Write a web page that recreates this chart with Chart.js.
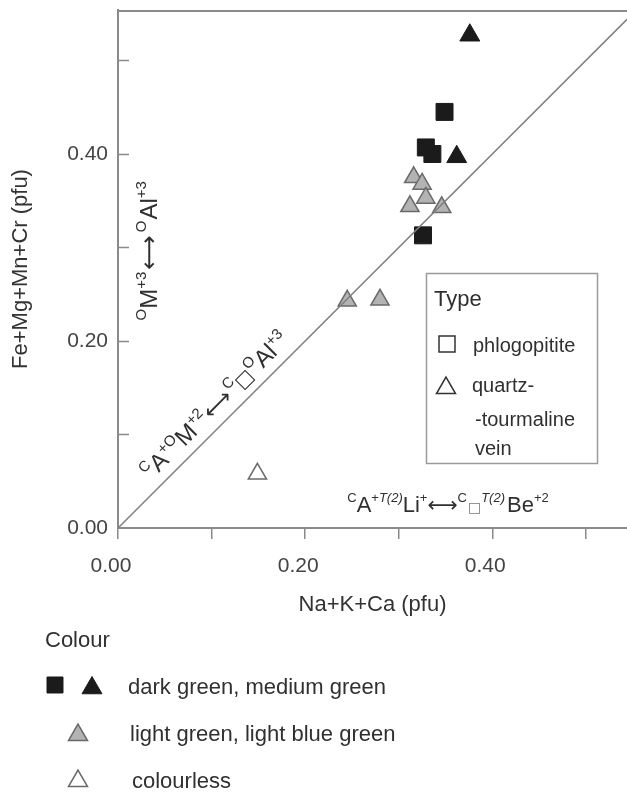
<!DOCTYPE html>
<html>
<head>
<meta charset="utf-8">
<script src="https://cdn.jsdelivr.net/npm/chart.js@4/dist/chart.umd.min.js"></script>
<style>
  html, body { margin: 0; padding: 0; background: #ffffff; }
  canvas { display: block; }
</style>
</head>
<body>
<canvas id="c" width="627" height="792"></canvas>
<script>
// ---------- data ----------
const phlogDarkX = [0.349, 0.329, 0.336, 0.326];
const phlogDarkY = [0.445, 0.407, 0.400, 0.313];
const veinDarkX = [0.376, 0.362];
const veinDarkY = [0.527, 0.397];
const veinLightX = [0.316, 0.325, 0.329, 0.312, 0.346, 0.245, 0.280];
const veinLightY = [0.375, 0.368, 0.353, 0.344, 0.343, 0.243, 0.244];
const veinColourlessX = [0.149];
const veinColourlessY = [0.058];
const oneToOne = [0, 0.544];
const xTickValues = [0, 0.1, 0.2, 0.3, 0.4, 0.5];
const xTickLabels = ['0.00', '', '0.20', '', '0.40', ''];
const yTickValues = [0, 0.1, 0.2, 0.3, 0.4, 0.5];
const yTickLabels = ['0.00', '', '0.20', '', '0.40', ''];
const typeTitle = 'Type';
const typeLabels = ['phlogopitite', 'quartz-', '-tourmaline', 'vein'];
const colourTitle = 'Colour';
const colourLabels = ['dark green, medium green', 'light green, light blue green', 'colourless'];

const FONT = '"Liberation Sans", Arial, Helvetica, sans-serif';
const pts = (xs, ys) => xs.map((v, i) => ({x: v, y: ys[i]}));
const labelFor = (vals, labels) => (v) => {
  const i = vals.findIndex(t => Math.abs(t - v) < 1e-6);
  return i >= 0 ? labels[i] : '';
};

// ---------- helpers ----------
function drawRich(ctx, parts, x0, y0) {
  let x = x0;
  for (const p of parts) {
    ctx.font = p.f;
    ctx.fillStyle = p.c || '#303030';
    ctx.fillText(p.t, x, y0 - (p.r || 0));
    x += ctx.measureText(p.t).width + (p.g || 0);
  }
}
const M = '24px ' + FONT, S = '15px ' + FONT;
const MH = '22px ' + FONT, SH = '13px ' + FONT, SIH = 'italic 13px ' + FONT;
const ARROW = '\u27F7', AF = '"DejaVu Sans", ' + FONT;
function shape(ctx, style, cx, cy, r, fill, stroke, lw) {
  ctx.beginPath();
  if (style === 'rect') {
    const s = Math.SQRT1_2 * r;
    ctx.rect(cx - s, cy - s, 2 * s, 2 * s);
  } else {
    for (let k = 0; k < 3; k++) {
      const a = k * 2 * Math.PI / 3;
      const px = cx + Math.sin(a) * r, py = cy - Math.cos(a) * r;
      if (k === 0) ctx.moveTo(px, py); else ctx.lineTo(px, py);
    }
    ctx.closePath();
  }
  if (fill) { ctx.fillStyle = fill; ctx.fill(); }
  if (stroke) { ctx.strokeStyle = stroke; ctx.lineWidth = lw || 1.5; ctx.stroke(); }
}

const extras = {
  id: 'extras',
  afterDraw(chart) {
    const {ctx, chartArea: ca, scales: {x, y}} = chart;
    ctx.save();
    ctx.textBaseline = 'alphabetic';
    ctx.textAlign = 'left';
    // frame top
    ctx.strokeStyle = '#8a8a8a'; ctx.lineWidth = 2;
    ctx.beginPath(); ctx.moveTo(ca.left, ca.top + 1); ctx.lineTo(ca.right, ca.top + 1); ctx.stroke();
    // inward y ticks
    ctx.lineWidth = 1.5;
    yTickValues.forEach(v => {
      if (v === 0) return;
      const py = Math.round(y.getPixelForValue(v)) + 0.5;
      ctx.beginPath(); ctx.moveTo(ca.left, py); ctx.lineTo(ca.left + 11, py); ctx.stroke();
    });

    // vertical annotation
    ctx.save();
    ctx.translate(x.getPixelForValue(0.042), y.getPixelForValue(0.222));
    ctx.rotate(-Math.PI / 2);
    drawRich(ctx, [
      {t: 'O', f: S, r: 11}, {t: 'M', f: M}, {t: '+3', f: S, r: 11, g: 2},
      {t: ARROW, f: '24px ' + AF, g: 3},
      {t: 'O', f: S, r: 11, g: 1}, {t: 'Al', f: M}, {t: '+3', f: S, r: 11}
    ], 0, 0);
    ctx.restore();

    // diagonal annotation along the 1:1 line
    ctx.save();
    const t0 = 0.043;
    const p0x = x.getPixelForValue(t0), p0y = y.getPixelForValue(t0);
    const p1x = x.getPixelForValue(0.3), p1y = y.getPixelForValue(0.3);
    const ang = Math.atan2(p1y - p0y, p1x - p0x);
    ctx.translate(p0x + Math.sin(ang) * 10, p0y - Math.cos(ang) * 10);
    ctx.rotate(ang);
    drawRich(ctx, [
      {t: 'C', f: S, r: 10}, {t: 'A', f: M}, {t: '+', f: S, r: 10}, {t: 'O', f: S, r: 10},
      {t: 'M', f: M}, {t: '+2', f: S, r: 10, g: 1},
      {t: ARROW, f: '22px ' + AF, g: 1},
      {t: 'C', f: S, r: 10}, {t: '\u25A1', f: '19px "DejaVu Sans", ' + FONT}, {t: 'O', f: S, r: 10},
      {t: 'Al', f: M}, {t: '+3', f: S, r: 10}
    ], 0, 0);
    ctx.restore();

    // horizontal annotation
    drawRich(ctx, [
      {t: 'C', f: SH, r: 10}, {t: 'A', f: MH}, {t: '+', f: SH, r: 10}, {t: 'T(2)', f: SIH, r: 10},
      {t: 'Li', f: MH}, {t: '+', f: SH, r: 10},
      {t: ARROW, f: '21px ' + AF},
      {t: 'C', f: SH, r: 10, g: 1}, {t: '\u25A1', f: '14px "DejaVu Sans", ' + FONT, c: '#777'},
      {t: 'T(2)', f: SIH, r: 10, g: 2},
      {t: 'Be', f: MH}, {t: '+2', f: SH, r: 10}
    ], x.getPixelForValue(0.245), y.getPixelForValue(0.017));

    // "Type" legend box
    ctx.fillStyle = '#ffffff';
    ctx.fillRect(426, 273, 171, 190);
    ctx.strokeStyle = '#9a9a9a'; ctx.lineWidth = 1.5;
    ctx.strokeRect(426.5, 273.5, 171, 190);
    ctx.fillStyle = '#303030';
    ctx.font = '22px ' + FONT;
    ctx.fillText(typeTitle, 434, 306);
    shape(ctx, 'rect', 447, 344, 11.3, null, '#333', 1.5);
    shape(ctx, 'triangle', 446, 388, 11, null, '#333', 1.5);
    ctx.font = '20px ' + FONT; ctx.fillStyle = '#303030';
    ctx.fillText(typeLabels[0], 473, 352);
    ctx.fillText(typeLabels[1], 472, 392);
    ctx.fillText(typeLabels[2], 475, 426);
    ctx.fillText(typeLabels[3], 475, 455);

    // "Colour" legend below the plot
    ctx.font = '22px ' + FONT; ctx.fillStyle = '#303030';
    ctx.fillText(colourTitle, 45, 647);
    shape(ctx, 'rect', 55, 685, 11.3, '#1b1b1b', '#1b1b1b', 1);
    shape(ctx, 'triangle', 92, 688, 11.5, '#1b1b1b', '#1b1b1b', 1);
    shape(ctx, 'triangle', 78, 735, 11, '#b3b3b3', '#6a6a6a', 1.5);
    shape(ctx, 'triangle', 78, 781, 11, '#ffffff', '#6a6a6a', 1.5);
    ctx.fillStyle = '#303030'; ctx.font = '22px ' + FONT;
    ctx.fillText(colourLabels[0], 128, 694);
    ctx.fillText(colourLabels[1], 130, 741);
    ctx.fillText(colourLabels[2], 132, 788);
    ctx.restore();
  }
};

new Chart(document.getElementById('c'), {
  type: 'scatter',
  data: {
    datasets: [
      {
        type: 'line', label: '1:1', data: pts(oneToOne, oneToOne),
        borderColor: '#808080', borderWidth: 1.5, pointRadius: 0, fill: false, tension: 0
      },
      {
        label: 'phlogopitite dark', data: pts(phlogDarkX, phlogDarkY), pointStyle: 'rect',
        pointRadius: 12, backgroundColor: '#1b1b1b', borderColor: '#1b1b1b', borderWidth: 1
      },
      {
        label: 'vein dark', data: pts(veinDarkX, veinDarkY), pointStyle: 'triangle',
        pointRadius: 11.5, backgroundColor: '#1b1b1b', borderColor: '#1b1b1b', borderWidth: 1
      },
      {
        label: 'vein light', data: pts(veinLightX, veinLightY), pointStyle: 'triangle',
        pointRadius: 10.5, backgroundColor: '#b3b3b3', borderColor: '#6a6a6a', borderWidth: 1.5
      },
      {
        label: 'vein colourless', data: pts(veinColourlessX, veinColourlessY), pointStyle: 'triangle',
        pointRadius: 10.5, backgroundColor: '#ffffff', borderColor: '#6a6a6a', borderWidth: 1.5
      }
    ]
  },
  options: {
    responsive: false,
    animation: false,
    devicePixelRatio: 1,
    layout: {autoPadding: false, padding: {top: 10, left: 0, right: 0, bottom: 164}},
    plugins: {legend: {display: false}, tooltip: {enabled: false}},
    scales: {
      x: {
        type: 'linear', min: 0, max: 0.544,
        afterFit(s) { s.height = 100; s.paddingLeft = 0; s.paddingRight = 0; },
        ticks: {
          stepSize: 0.1, includeBounds: false, autoSkip: false, maxRotation: 0,
          padding: 15, labelOffset: -7, color: '#444', font: {size: 21, family: FONT},
          callback: labelFor(xTickValues, xTickLabels)
        },
        grid: {drawOnChartArea: false, drawTicks: true, tickLength: 11, color: '#8a8a8a', lineWidth: 1.5},
        border: {display: true, color: '#8a8a8a', width: 2},
        title: {display: true, text: 'Na+K+Ca (pfu)', color: '#333', font: {size: 22, family: FONT}, padding: {top: 0, bottom: 10}}
      },
      y: {
        type: 'linear', min: 0, max: 0.554,
        afterFit(s) { s.width = 118; s.paddingTop = 0; s.paddingBottom = 0; },
        ticks: {
          stepSize: 0.1, includeBounds: false, autoSkip: false,
          padding: 10, color: '#444', font: {size: 21, family: FONT},
          callback: labelFor(yTickValues, yTickLabels)
        },
        grid: {drawOnChartArea: false, drawTicks: false},
        border: {display: true, color: '#8a8a8a', width: 2},
        title: {display: true, text: 'Fe+Mg+Mn+Cr (pfu)', color: '#333', font: {size: 22, family: FONT}, padding: {top: 8, bottom: 0}}
      }
    }
  },
  plugins: [extras]
});
</script>
</body>
</html>
